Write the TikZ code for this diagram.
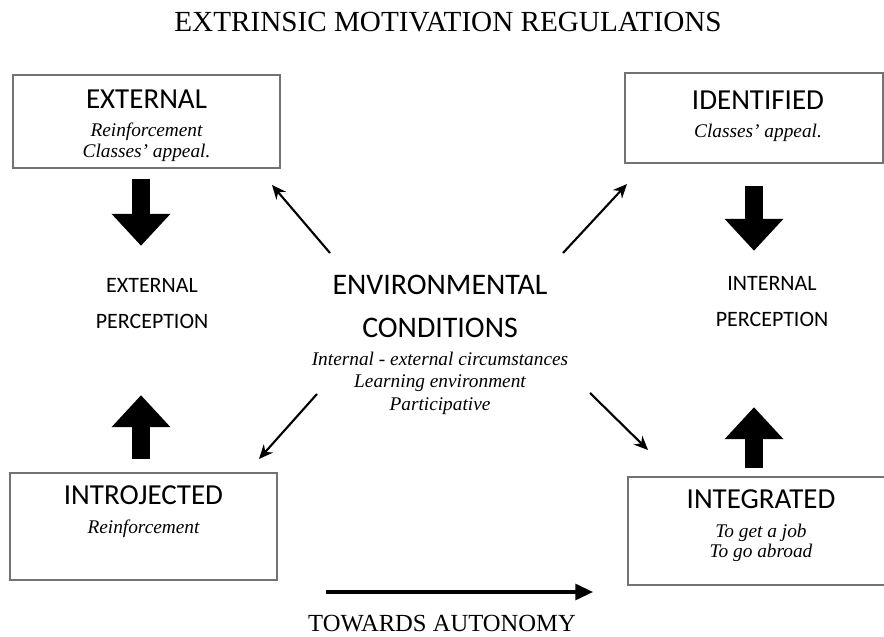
\documentclass[tikz,border=0pt]{standalone}
\usepackage{fontspec}
\setmainfont{Liberation Serif}
\newfontfamily\calibri{Carlito}
\usetikzlibrary{arrows.meta, positioning}

\tikzset{
	regbox/.style={draw=black!55, line width=0.9pt},
	regtitle/.style={font={\calibri\fontsize{16.5}{18}\selectfont}},
	regtext/.style={font={\fontsize{11}{11.5}\selectfont\itshape}, align=center},
	perc/.style={font={\calibri\fontsize{12.5}{21}\selectfont}, align=center},
	fatarrow/.style={line width=0.37cm, -{Triangle[length=0.64cm, width=1.14cm]}},
	thinarrow/.style={line width=1.2pt, -{Stealth[length=8pt, width=7pt]}},
}

\begin{document}
\begin{tikzpicture}[scale=1]
	
	%\draw[help lines] (0,0) grid (18,13);
	\useasboundingbox (0,0) rectangle (17.68,12.74);
	
	\node (title) at (8.96, 12.30) {\fontsize{16.6}{18}\selectfont EXTRINSIC MOTIVATION REGULATIONS};
	
	% boxes
	\node[regbox, minimum width=5.34cm, minimum height=1.86cm] (external) at (2.93, 10.31) {};
	\node[regtitle] (externalT) at ([yshift=-0.5cm]external.north) {EXTERNAL};
	\node[regtext] (externalD) at ([yshift=-1.36cm]external.north) {Reinforcement\\Classes' appeal.};
	
	\node[regbox, minimum width=5.16cm, minimum height=1.80cm] (identified) at (15.08, 10.38) {};
	\node[regtitle] (identifiedT) at ([xshift=0.08cm, yshift=-0.57cm]identified.north) {IDENTIFIED};
	\node[regtext] (identifiedD) at ([xshift=0.08cm, yshift=-1.22cm]identified.north) {Classes' appeal.};
	
	\node[regbox, minimum width=5.34cm, minimum height=2.14cm] (introjected) at (2.87, 2.21) {};
	\node[regtitle] (introjectedT) at ([yshift=-0.46cm]introjected.north) {INTROJECTED};
	\node[regtext] (introjectedD) at ([yshift=-1.14cm]introjected.north) {Reinforcement};
	
	\node[regbox, minimum width=5.14cm, minimum height=2.16cm] (integrated) at (15.13, 2.12) {};
	\node[regtitle] (integratedT) at ([xshift=0.09cm, yshift=-0.46cm]integrated.north) {INTEGRATED};
	\node[regtext] (integratedD) at ([xshift=0.09cm, yshift=-1.34cm]integrated.north) {To get a job\\To go abroad};
	
	% perception
	\node[perc] (extperc) at (3.04, 6.67) {EXTERNAL\\PERCEPTION};
	\node[perc] (intperc) at (15.44, 6.71) {INTERNAL\\PERCEPTION};
	
	% centre
	\node[font={\calibri\fontsize{17}{24.4}\selectfont}, align=center] (env) at (8.80, 6.61) {ENVIRONMENTAL\\CONDITIONS};
	\node[font={\fontsize{11}{12.8}\selectfont\itshape}, align=center] (envD) at (8.80, 5.08) {Internal - external circumstances\\Learning environment\\Participative};
	
	% fat arrows
	\draw[fatarrow] ([xshift=-0.11cm, yshift=-0.2cm]external.south) -- ++(0,-1.34);
	\draw[fatarrow] ([yshift=-0.44cm]identified.south) -- ++(0,-1.30);
	\draw[fatarrow] ([xshift=-0.05cm, yshift=0.26cm]introjected.north) -- ++(0,1.28);
	\draw[fatarrow] ([xshift=-0.05cm, yshift=0.16cm]integrated.north) -- ++(0,1.22);
	
	% thin arrows
	\coordinate (ulS) at (6.60, 7.68);
	\coordinate (ulE) at (5.44, 9.04);
	\coordinate (urS) at (11.26, 7.68);
	\coordinate (urE) at (12.54, 9.06);
	\coordinate (llS) at (6.34, 4.86);
	\coordinate (llE) at (5.18, 3.56);
	\coordinate (lrS) at (11.80, 4.88);
	\coordinate (lrE) at (12.96, 3.74);
	\draw[thinarrow] (ulS) -- (ulE);
	\draw[thinarrow] (urS) -- (urE);
	\draw[thinarrow] (llS) -- (llE);
	\draw[thinarrow] (lrS) -- (lrE);
	
	% towards autonomy
	\coordinate (autS) at (6.52, 0.90);
	\coordinate (autE) at (11.86, 0.90);
	\draw[line width=1.8pt, -{Triangle[length=10pt, width=9pt]}] (autS) -- (autE);
	\node (autonomy) at (8.84, 0.26) {\fontsize{14}{16}\selectfont TOWARDS AUTONOMY};

\end{tikzpicture}
\end{document}
